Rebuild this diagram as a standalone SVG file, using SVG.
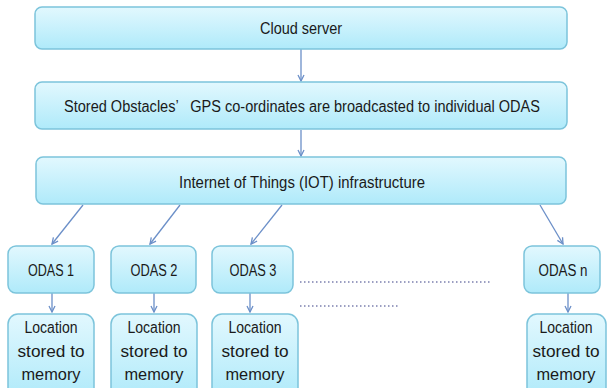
<svg xmlns="http://www.w3.org/2000/svg" width="607" height="388" viewBox="0 0 607 388">
<defs>
<linearGradient id="g" x1="0" y1="0" x2="0" y2="1">
<stop offset="0" stop-color="#e2f8fe"/>
<stop offset="1" stop-color="#afeafa"/>
</linearGradient>
<marker id="ah" markerWidth="8" markerHeight="8" refX="7" refY="4" orient="auto" markerUnits="userSpaceOnUse">
<path d="M1,1 L7,4 L1,7" fill="none" stroke="#6b8fc8" stroke-width="1.3"/>
</marker>
</defs>
<style>
.box{fill:url(#g);stroke:#7cc4db;stroke-width:1.5}
.t{font-family:"Liberation Sans",Arial,sans-serif;font-size:16px;fill:#1a1a1a;text-anchor:middle}
.c{stroke:#6b8fc8;stroke-width:1.3;fill:none;marker-end:url(#ah)}
.d{stroke:#7b7fae;stroke-width:1.5;stroke-dasharray:1.5 2.5;fill:none}
</style>
<rect width="607" height="388" fill="#ffffff"/>
<g id="connectors">
<line class="c" x1="301" y1="49" x2="301" y2="81"/>
<line class="c" x1="301" y1="130" x2="301" y2="156"/>
<line class="c" x1="83" y1="205" x2="52" y2="244"/>
<line class="c" x1="180" y1="205" x2="150" y2="244"/>
<line class="c" x1="282" y1="205" x2="251" y2="244"/>
<line class="c" x1="540" y1="205" x2="563" y2="244"/>
<line class="c" x1="52" y1="293" x2="52" y2="312"/>
<line class="c" x1="154" y1="293" x2="154" y2="312"/>
<line class="c" x1="250" y1="293" x2="250" y2="312"/>
<line class="c" x1="568" y1="293" x2="568" y2="312"/>
</g>
<g id="cloud">
<rect class="box" x="35" y="7" width="532" height="42" rx="7"/>
<text class="t" x="301" y="34" textLength="82" lengthAdjust="spacingAndGlyphs">Cloud server</text>
</g>
<g id="broadcast">
<rect class="box" x="35" y="82" width="532" height="47" rx="7"/>
<text class="t" x="302" y="112" textLength="476" lengthAdjust="spacingAndGlyphs" xml:space="preserve">Stored Obstacles’   GPS co-ordinates are broadcasted to individual ODAS</text>
</g>
<g id="iot">
<rect class="box" x="36" y="157" width="530" height="47" rx="7"/>
<text class="t" x="302" y="188" textLength="246" lengthAdjust="spacingAndGlyphs">Internet of Things (IOT) infrastructure</text>
</g>
<g id="odas1">
<rect class="box" x="8" y="246" width="86" height="47" rx="8"/>
<text class="t" x="51" y="276" textLength="46" lengthAdjust="spacingAndGlyphs">ODAS 1</text>
</g>
<g id="odas2">
<rect class="box" x="111" y="246" width="85" height="47" rx="8"/>
<text class="t" x="154" y="276" textLength="47" lengthAdjust="spacingAndGlyphs">ODAS 2</text>
</g>
<g id="odas3">
<rect class="box" x="212" y="246" width="81" height="47" rx="8"/>
<text class="t" x="253" y="276" textLength="47" lengthAdjust="spacingAndGlyphs">ODAS 3</text>
</g>
<g id="odasn">
<rect class="box" x="524" y="246" width="76" height="47" rx="8"/>
<text class="t" x="563" y="276" textLength="49" lengthAdjust="spacingAndGlyphs">ODAS n</text>
</g>
<g id="loc1">
<rect class="box" x="8" y="314" width="86" height="84" rx="10"/>
<text class="t" x="51" y="333" textLength="53" lengthAdjust="spacingAndGlyphs">Location</text>
<text class="t" x="51" y="357" textLength="67" lengthAdjust="spacingAndGlyphs">stored to</text>
<text class="t" x="51" y="380" textLength="59" lengthAdjust="spacingAndGlyphs">memory</text>
</g>
<g id="loc2">
<rect class="box" x="111" y="314" width="86" height="84" rx="10"/>
<text class="t" x="154" y="333" textLength="53" lengthAdjust="spacingAndGlyphs">Location</text>
<text class="t" x="154" y="357" textLength="67" lengthAdjust="spacingAndGlyphs">stored to</text>
<text class="t" x="154" y="380" textLength="59" lengthAdjust="spacingAndGlyphs">memory</text>
</g>
<g id="loc3">
<rect class="box" x="212" y="314" width="86" height="84" rx="10"/>
<text class="t" x="255" y="333" textLength="53" lengthAdjust="spacingAndGlyphs">Location</text>
<text class="t" x="255" y="357" textLength="67" lengthAdjust="spacingAndGlyphs">stored to</text>
<text class="t" x="255" y="380" textLength="59" lengthAdjust="spacingAndGlyphs">memory</text>
</g>
<g id="locn">
<rect class="box" x="527" y="314" width="79" height="84" rx="10"/>
<text class="t" x="566" y="333" textLength="53" lengthAdjust="spacingAndGlyphs">Location</text>
<text class="t" x="566" y="357" textLength="67" lengthAdjust="spacingAndGlyphs">stored to</text>
<text class="t" x="566" y="380" textLength="59" lengthAdjust="spacingAndGlyphs">memory</text>
</g>
<g id="ellipsis">
<line class="d" x1="300" y1="282" x2="490" y2="282"/>
<line class="d" x1="300" y1="306" x2="398" y2="306"/>
</g>
</svg>
